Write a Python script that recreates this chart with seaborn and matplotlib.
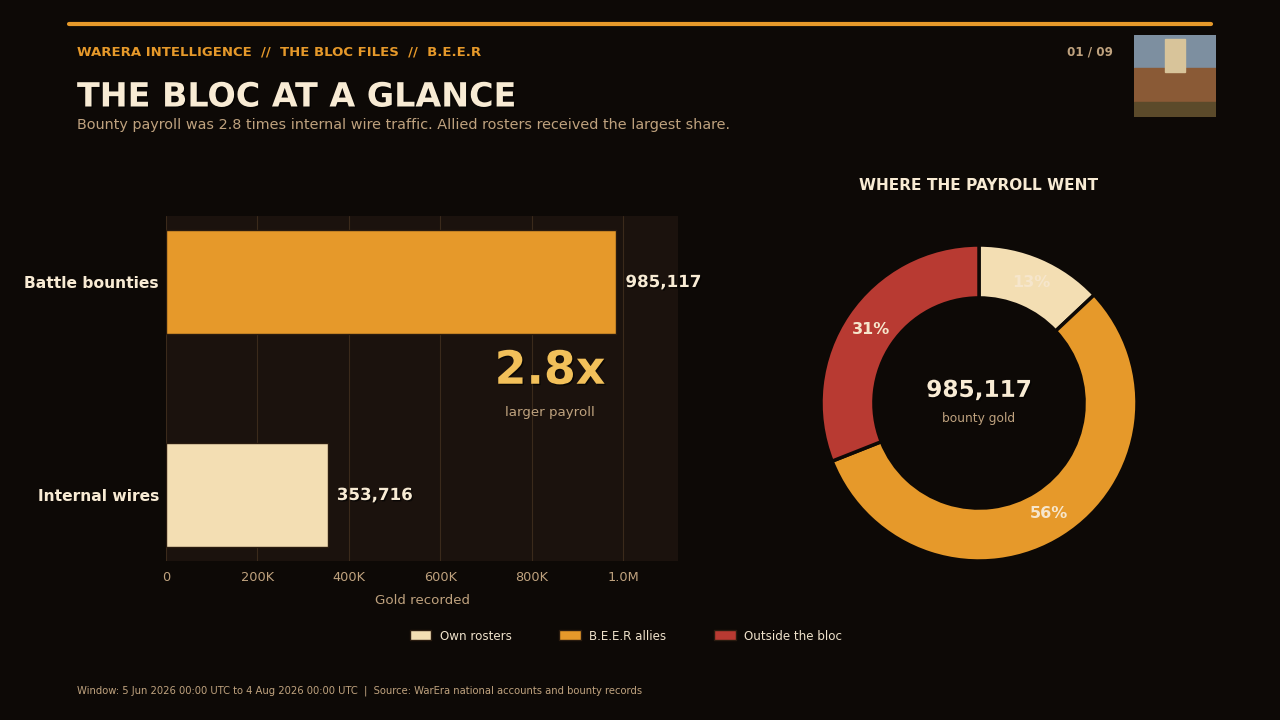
import matplotlib
matplotlib.use("Agg")
import matplotlib.pyplot as plt
import matplotlib.patheffects as pe
from matplotlib.patches import Patch, Rectangle
from matplotlib.ticker import FuncFormatter
import seaborn as sns
import pandas as pd

# data
flow_labels = ["Battle bounties", "Internal wires"]
flow_values = [985117, 353716]
share_labels = ["Own rosters", "B.E.E.R allies", "Outside the bloc"]
share_pct = [13, 56, 31]
bounty_total = 985117
ratio_text = "2.8x"

BG = "#0d0906"
PANEL = "#1b120d"
GOLD = "#e6992a"
CREAM = "#f3deb3"
RED = "#b83a32"
TITLE = "#f8ebd4"
MUTED = "#bfa27e"
GRID = "#3b2a1b"

sns.set_theme(style="dark")
plt.rcParams["font.family"] = ["DejaVu Sans"]

fig = plt.figure(figsize=(12.8, 7.2), dpi=100, facecolor=BG)

def fx(px):
    return px / 1280

def fy(py):
    return 1 - py / 720

shadow = [pe.withSimplePatchShadow(offset=(1, -1), shadow_rgbFace="black", alpha=0.6)]

# header
fig.add_artist(plt.Line2D([fx(69), fx(1211)], [fy(24), fy(24)], color=GOLD, lw=3))
fig.text(fx(77), fy(52), "WARERA INTELLIGENCE  //  THE BLOC FILES  //  B.E.E.R",
         color=GOLD, fontsize=9.55, fontweight="bold", va="center")
fig.text(fx(77), fy(97), "THE BLOC AT A GLANCE", color=TITLE, fontsize=24,
         fontweight="bold", va="center", path_effects=shadow)
fig.text(fx(77), fy(125), "Bounty payroll was 2.8 times internal wire traffic. Allied rosters received the largest share.",
         color=MUTED, fontsize=10.4, va="center")
fig.text(fx(1113), fy(52), "01 / 09", color=MUTED, fontsize=8.6, fontweight="bold",
         ha="right", va="center")

# thumbnail placeholder
ax_img = fig.add_axes([fx(1134), fy(117), fx(82), 82 / 720])
ax_img.set_xlim(0, 1)
ax_img.set_ylim(0, 1)
ax_img.axis("off")
ax_img.add_patch(Rectangle((0, 0), 1, 1, color="#7d8fa0"))
ax_img.add_patch(Rectangle((0, 0), 1, 0.6, color="#8a5a36"))
ax_img.add_patch(Rectangle((0, 0), 1, 0.18, color="#5b4a2a"))
ax_img.add_patch(Rectangle((0.38, 0.55), 0.24, 0.4, color="#d8c49a"))

# bar chart
ax = fig.add_axes([fx(166), fy(561), fx(512), 345 / 720])
ax.set_facecolor(PANEL)
df = pd.DataFrame({"flow": flow_labels, "gold": flow_values})
sns.barplot(data=df, x="gold", y="flow", hue="flow", palette=[GOLD, CREAM],
            legend=False, width=0.485, ax=ax, saturation=1,
            edgecolor="#2a1c10", linewidth=1)
ax.set_xlim(0, 1.12e6)
ax.set_ylim(1.31, -0.31)
ax.xaxis.set_major_locator(plt.MultipleLocator(200000))
ax.xaxis.set_major_formatter(FuncFormatter(
    lambda v, p: "0" if v == 0 else (f"{v/1e6:.1f}M" if v >= 1e6 else f"{v/1e3:.0f}K")))
ax.grid(axis="x", color=GRID, lw=0.8)
ax.grid(axis="y", visible=False)
ax.set_axisbelow(True)
for s in ax.spines.values():
    s.set_visible(False)
ax.tick_params(axis="x", colors=MUTED, labelsize=9.3, length=4, color=GRID)
ax.tick_params(axis="y", colors=TITLE, length=3, color=MUTED, pad=2)
for lbl in ax.get_yticklabels():
    lbl.set_fontsize(11.2)
    lbl.set_fontweight("bold")
    lbl.set_color(TITLE)
ax.set_ylabel("")
ax.set_xlabel("Gold recorded", color=MUTED, fontsize=9.6, labelpad=7)
for i, v in enumerate(flow_values):
    ax.text(v + 20000, i, f"{v:,}", color=TITLE, fontsize=12, fontweight="bold",
            va="center", path_effects=shadow)
ax.text(0.75, 0.55, ratio_text, transform=ax.transAxes, color="#f2c05a", fontsize=33,
        fontweight="bold", ha="center", va="center", path_effects=shadow)
ax.text(0.75, 0.43, "larger payroll", transform=ax.transAxes, color=MUTED,
        fontsize=9.6, ha="center", va="center")

# donut
fig.text(fx(979), fy(185), "WHERE THE PAYROLL WENT", color=TITLE, fontsize=11.1,
         fontweight="bold", ha="center", va="center")
ax2 = fig.add_axes([fx(979 - 158), fy(403 + 158), fx(316), 316 / 720])
ax2.set_facecolor(BG)
wedges, _, autotexts = ax2.pie(share_pct, colors=[CREAM, GOLD, RED], startangle=90,
                               counterclock=False, autopct="%d%%", pctdistance=0.83,
                               wedgeprops=dict(width=0.335, edgecolor=BG, linewidth=2.5))
for t in autotexts:
    t.set_color("#f6e6cc")
    t.set_fontsize(11.5)
    t.set_fontweight("bold")
ax2.set_xlim(-1, 1)
ax2.set_ylim(-1, 1)
ax2.axis("off")
ax2.text(0, 0.08, f"{bounty_total:,}", color=TITLE, fontsize=16.7, fontweight="bold",
         ha="center", va="center", path_effects=shadow)
ax2.text(0, -0.1, "bounty gold", color=MUTED, fontsize=8.8, ha="center", va="center")

# legend
handles = [Patch(facecolor=c, edgecolor="#2a1c10", label=l)
           for c, l in zip([CREAM, GOLD, RED], share_labels)]
leg = fig.legend(handles=handles, loc="center", bbox_to_anchor=(fx(626), fy(636)),
                 ncol=3, frameon=False, fontsize=8.6, columnspacing=4.0,
                 handlelength=1.8, handleheight=0.9, handletextpad=0.7)
for t in leg.get_texts():
    t.set_color("#efe2cb")

# footer
fig.text(fx(77), fy(691),
         "Window: 5 Jun 2026 00:00 UTC to 4 Aug 2026 00:00 UTC  |  Source: WarEra national accounts and bounty records",
         color=MUTED, fontsize=7.2, va="center")

fig.savefig("out.png", dpi=100, facecolor=BG)
